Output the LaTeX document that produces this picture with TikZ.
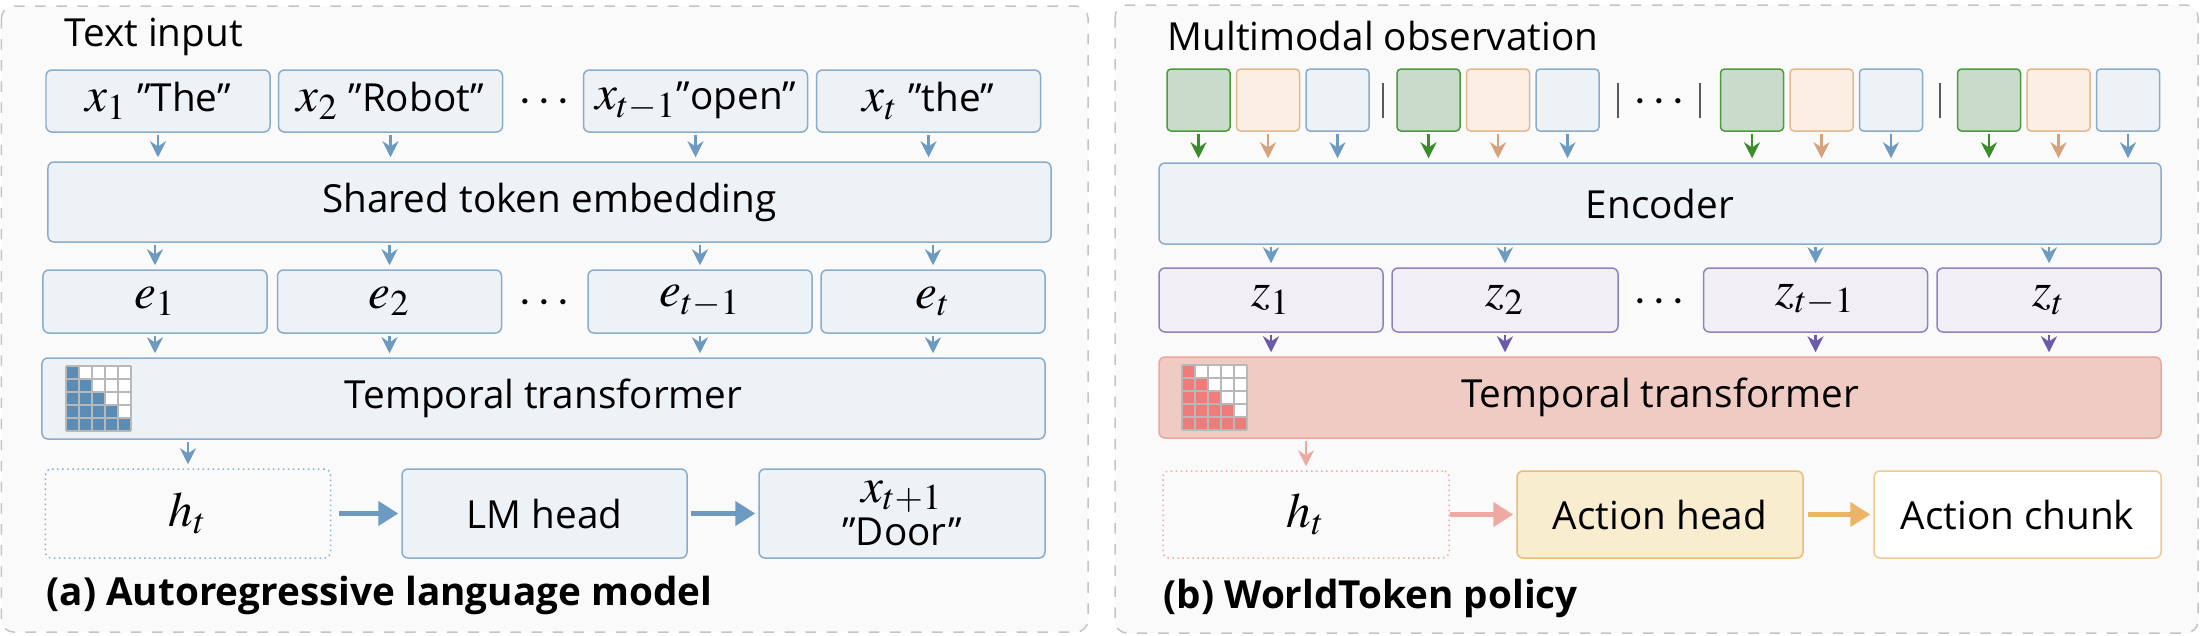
\documentclass[tikz,border=0pt]{standalone}
\usepackage{mathptmx}
\usepackage{fontspec}
\setmainfont{Open Sans}
\usetikzlibrary{arrows.meta}

\definecolor{panelbg}{HTML}{FAFAFA}
\definecolor{panelline}{HTML}{C4C4C4}
\definecolor{bluebg}{HTML}{EDF2F7}
\definecolor{blueline}{HTML}{8AACCB}
\definecolor{bluearr}{HTML}{6D9AC0}
\definecolor{bluemask}{HTML}{5B8CB6}
\definecolor{greenbg}{HTML}{C9DCCC}
\definecolor{greenline}{HTML}{4B9B3C}
\definecolor{greenarr}{HTML}{3D8C2C}
\definecolor{orangebg}{HTML}{FBEFE3}
\definecolor{orangeline}{HTML}{E3B98F}
\definecolor{orangearr}{HTML}{D4A27C}
\definecolor{zbg}{HTML}{F1EEF6}
\definecolor{zline}{HTML}{9083BD}
\definecolor{zarr}{HTML}{6B5BA8}
\definecolor{pinkbg}{HTML}{F0CBC3}
\definecolor{pinkline}{HTML}{E8A89D}
\definecolor{pinkmask}{HTML}{EF7B7B}
\definecolor{pinkarr}{HTML}{EEAAA2}
\definecolor{headbg}{HTML}{F8EDCF}
\definecolor{headline}{HTML}{EBBD72}
\definecolor{headarr}{HTML}{EBB46A}
\definecolor{chunkline}{HTML}{EFC990}

\newcommand{\mf}{\fontsize{14}{16}\selectfont}
% lower-triangular attention mask, top left corner at (#1,#2)
\newcommand{\causalmask}[3]{%
  \fill[white] (#1,#2) rectangle ++(6.5,-6.5);
  \foreach \r in {0,...,4}{\foreach \c in {0,...,\r}{\fill[#3] ({#1+1.3*\c},{#2-1.3*\r}) rectangle ++(1.3,-1.3);}}
  \foreach \k in {0,...,5}{\draw[black!28,line width=0.15mm] ({#1+1.3*\k},#2) -- ++(0,-6.5); \draw[black!28,line width=0.15mm] (#1,{#2-1.3*\k}) -- ++(6.5,0);}}

\begin{document}
\begin{tikzpicture}[x=1mm,y=1mm,font=\fontsize{11}{13}\selectfont,
panel/.style={draw=panelline,dashed,fill=panelbg,rounded corners=1.2mm,line width=0.15mm},
tok/.style={draw=blueline,fill=bluebg,rounded corners=0.6mm,line width=0.15mm,minimum width=22.4mm,minimum height=6.2mm,inner sep=0pt,align=center},
wide/.style={tok,minimum width=100.3mm,minimum height=8.1mm},
outbox/.style={tok,minimum width=28.5mm,minimum height=8.9mm},
tile/.style={draw=#1line,fill=#1bg,rounded corners=0.4mm,line width=0.15mm,minimum width=6.3mm,minimum height=6.2mm,inner sep=0pt},
zbox/.style={tok,draw=zline,fill=zbg,minimum height=6.4mm},
flow/.style={-{Stealth[length=1.6mm,width=1.6mm]},line width=0.24mm,draw=#1,shorten <=0.2mm,shorten >=0.4mm},
flow/.default=bluearr,
bigflow/.style={-{Triangle[length=2mm,width=2.4mm]},line width=0.45mm,draw=#1}]
\useasboundingbox (0,0) rectangle (220,-63.5);

% (a) language model
\draw[panel] (0.15,-0.6) rectangle (108.8,-63.2);
\node[anchor=base west,inner sep=0pt] (titleA) at (6.4,-4.65) {Text input};
\node[tok] (x1) at (15.8,-10.1) {{\mf$x_1$} "The"};
\node[tok] (x2) at (39.05,-10.1) {{\mf$x_2$} "Robot"};
\node[anchor=base,inner sep=0pt] (xdots) at (54.4,-11.35) {\mf$\cdots$};
\node[tok] (xtm) at (69.55,-10.1) {{\mf$x_{t-1}$}"open"};
\node[tok] (xt) at (92.85,-10.1) {{\mf$x_t$} "the"};
\node[wide,minimum width=100.3mm,minimum height=8mm] (emb) at (54.95,-20.2) {Shared token embedding};
\node[tok,minimum height=6.3mm] (e1) at (15.5,-30.15) {\mf$e_1$};
\node[tok,minimum height=6.3mm] (e2) at (38.95,-30.15) {\mf$e_2$};
\node[anchor=base,inner sep=0pt] (edots) at (54.4,-31.4) {\mf$\cdots$};
\node[tok,minimum height=6.3mm] (etm) at (70.0,-30.15) {\mf$e_{t-1}$};
\node[tok,minimum height=6.3mm] (et) at (93.3,-30.15) {\mf$e_t$};
\node[wide] (ttA) at (54.35,-39.85) {Temporal transformer};
\causalmask{6.6}{-36.6}{bluemask}
\node[outbox,fill=none,densely dotted] (htA) at (18.8,-51.35) {\mf$h_t$};
\node[outbox] (lm) at (54.45,-51.35) {LM head};
\node[outbox,minimum width=28.6mm] (nxt) at (90.2,-51.35) {{\mf$x_{t+1}$}\\[-0.2mm]"Door"};
\node[anchor=base west,inner sep=0pt,font=\fontsize{11}{13}\selectfont\bfseries] (capA) at (4.6,-60.5) {(a) Autoregressive language model};

\draw[flow] (x1.south) -- (x1.south |- emb.north); \draw[flow] (x2.south) -- (x2.south |- emb.north);
\draw[flow] (xtm.south) -- (xtm.south |- emb.north); \draw[flow] (xt.south) -- (xt.south |- emb.north);
\draw[flow] (e1.north |- emb.south) -- (e1.north); \draw[flow] (e2.north |- emb.south) -- (e2.north);
\draw[flow] (etm.north |- emb.south) -- (etm.north); \draw[flow] (et.north |- emb.south) -- (et.north);
\draw[flow] (e1.south) -- (e1.south |- ttA.north); \draw[flow] (e2.south) -- (e2.south |- ttA.north);
\draw[flow] (etm.south) -- (etm.south |- ttA.north); \draw[flow] (et.south) -- (et.south |- ttA.north);
\draw[flow] (htA.north |- ttA.south) -- (htA.north);
\draw[bigflow=bluearr,shorten <=0.8mm,shorten >=0.3mm] (htA) -- (lm);
\draw[bigflow=bluearr,shorten <=0.3mm,shorten >=0.3mm] (lm) -- (nxt);

% (b) WorldToken policy
\draw[panel] (111.5,-0.5) rectangle (219.8,-63.3);
\node[anchor=base west,inner sep=0pt] (titleB) at (116.7,-5.0) {Multimodal observation};
\node[tile=green] (g1) at (119.85,-10) {}; \node[tile=orange] (o1) at (126.8,-10) {}; \node[tile=blue] (b1) at (133.75,-10) {};
\node[tile=green] (g2) at (142.85,-10) {}; \node[tile=orange] (o2) at (149.8,-10) {}; \node[tile=blue] (b2) at (156.75,-10) {};
\node[tile=green] (g3) at (175.2,-10) {}; \node[tile=orange] (o3) at (182.15,-10) {}; \node[tile=blue] (b3) at (189.1,-10) {};
\node[tile=green] (g4) at (198.9,-10) {}; \node[tile=orange] (o4) at (205.85,-10) {}; \node[tile=blue] (b4) at (212.8,-10) {};
\draw[black!65,line width=0.15mm] (138.3,-8.3) -- (138.3,-11.8) (161.8,-8.3) -- (161.8,-11.8)
  (170.0,-8.3) -- (170.0,-11.8) (194.0,-8.3) -- (194.0,-11.8);
\node[anchor=base,inner sep=0pt] (odots) at (165.9,-11.3) {\mf$\cdots$};
\node[wide,minimum width=100.2mm] (enc) at (166.0,-20.35) {Encoder};
\node[zbox] (z1) at (127.1,-30.0) {\mf$z_1$};
\node[zbox,minimum width=22.6mm] (z2) at (150.5,-30.0) {\mf$z_2$};
\node[anchor=base,inner sep=0pt] (zdots) at (165.9,-31.3) {\mf$\cdots$};
\node[zbox] (ztm) at (181.55,-30.0) {\mf$z_{t-1}$};
\node[zbox] (zt) at (204.9,-30.0) {\mf$z_t$};
\node[wide,minimum width=100.2mm,draw=pinkline,fill=pinkbg] (ttB) at (166.0,-39.75) {Temporal transformer};
\causalmask{118.2}{-36.5}{pinkmask}
\node[outbox,minimum width=28.6mm,minimum height=8.7mm,draw=pinkarr,fill=none,densely dotted] (htB) at (130.6,-51.45) {\mf$h_t$};
\node[outbox,minimum width=28.6mm,minimum height=8.7mm,draw=headline,fill=headbg] (ah) at (166.0,-51.45) {Action head};
\node[outbox,minimum width=28.7mm,minimum height=8.7mm,draw=chunkline,fill=white] (ac) at (201.75,-51.45) {Action chunk};
\node[anchor=base west,inner sep=0pt,font=\fontsize{11}{13}\selectfont\bfseries] (capB) at (116.3,-60.8) {(b) WorldToken policy};

\draw[flow=greenarr] (g1.south) -- (g1.south |- enc.north); \draw[flow=orangearr] (o1.south) -- (o1.south |- enc.north); \draw[flow] (b1.south) -- (b1.south |- enc.north);
\draw[flow=greenarr] (g2.south) -- (g2.south |- enc.north); \draw[flow=orangearr] (o2.south) -- (o2.south |- enc.north); \draw[flow] (b2.south) -- (b2.south |- enc.north);
\draw[flow=greenarr] (g3.south) -- (g3.south |- enc.north); \draw[flow=orangearr] (o3.south) -- (o3.south |- enc.north); \draw[flow] (b3.south) -- (b3.south |- enc.north);
\draw[flow=greenarr] (g4.south) -- (g4.south |- enc.north); \draw[flow=orangearr] (o4.south) -- (o4.south |- enc.north); \draw[flow] (b4.south) -- (b4.south |- enc.north);
\draw[flow] (z1.north |- enc.south) -- (z1.north); \draw[flow] (z2.north |- enc.south) -- (z2.north);
\draw[flow] (ztm.north |- enc.south) -- (ztm.north); \draw[flow] (zt.north |- enc.south) -- (zt.north);
\draw[flow=zarr] (z1.south) -- (z1.south |- ttB.north); \draw[flow=zarr] (z2.south) -- (z2.south |- ttB.north);
\draw[flow=zarr] (ztm.south) -- (ztm.south |- ttB.north); \draw[flow=zarr] (zt.south) -- (zt.south |- ttB.north);
\draw[flow=pinkarr] (htB.north |- ttB.south) -- (htB.north);
\draw[bigflow=pinkarr,shorten >=0.3mm] (htB) -- (ah);
\draw[bigflow=headarr,shorten <=0.4mm,shorten >=0.3mm] (ah) -- (ac);
\end{tikzpicture}
\end{document}
